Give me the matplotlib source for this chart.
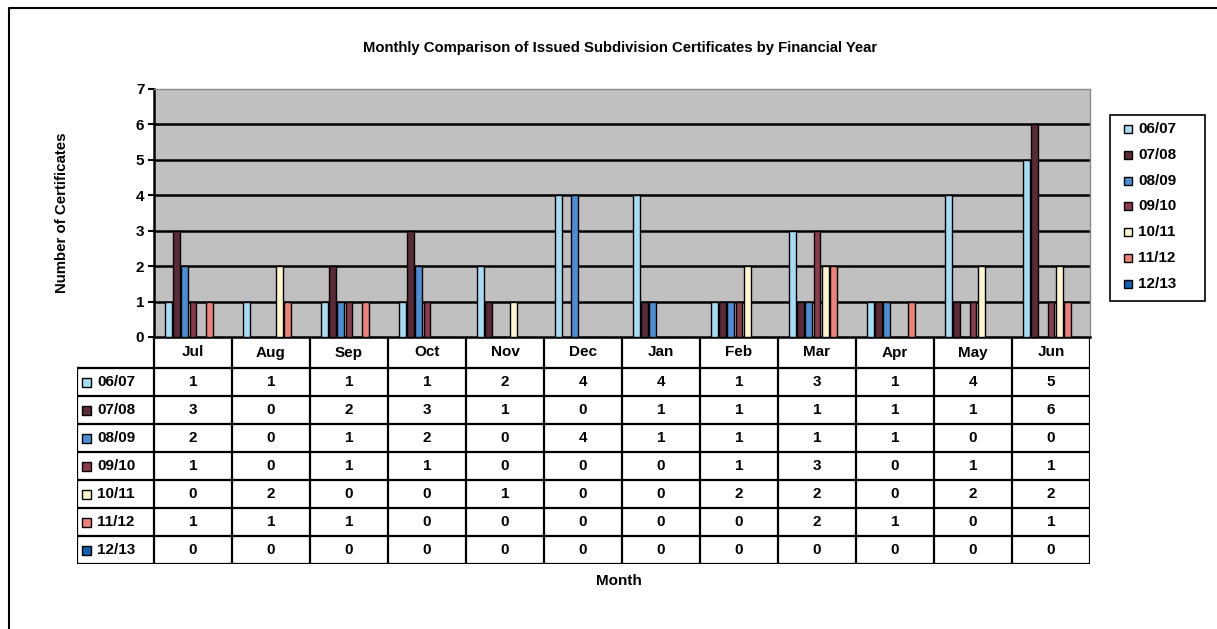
import matplotlib.pyplot as plt
from matplotlib.patches import Rectangle
from matplotlib.lines import Line2D
import numpy as np

plt.rcParams['font.family'] = ['Liberation Sans', 'DejaVu Sans']

months = ['Jul', 'Aug', 'Sep', 'Oct', 'Nov', 'Dec', 'Jan', 'Feb', 'Mar', 'Apr', 'May', 'Jun']
years = ['06/07', '07/08', '08/09', '09/10', '10/11', '11/12', '12/13']

fy0607 = [1, 1, 1, 1, 2, 4, 4, 1, 3, 1, 4, 5]
fy0708 = [3, 0, 2, 3, 1, 0, 1, 1, 1, 1, 1, 6]
fy0809 = [2, 0, 1, 2, 0, 4, 1, 1, 1, 1, 0, 0]
fy0910 = [1, 0, 1, 1, 0, 0, 0, 1, 3, 0, 1, 1]
fy1011 = [0, 2, 0, 0, 1, 0, 0, 2, 2, 0, 2, 2]
fy1112 = [1, 1, 1, 0, 0, 0, 0, 0, 2, 1, 0, 1]
fy1213 = [0, 0, 0, 0, 0, 0, 0, 0, 0, 0, 0, 0]
series = [fy0607, fy0708, fy0809, fy0910, fy1011, fy1112, fy1213]

colours = ['#a6dcf5', '#5c2a36', '#4a8fd6', '#8c3a4c', '#fff6cc', '#f08078', '#1060b0']

W, H = 1217, 629


def fx(px):
    return px / W


def fy(py):
    return 1 - py / H


fig = plt.figure(figsize=(W / 100, H / 100), dpi=100)

# outer frame (only top and left edges show in the picture)
fig.add_artist(Line2D([fx(9), fx(9), 1.0], [0.0, fy(8), fy(8)], color='black', lw=1.5))

# main plot area
ax = fig.add_axes([fx(154), fy(337), fx(1090) - fx(154), fy(89) - fy(337)])
ax.set_facecolor('#c0c0c0')
ax.set_xlim(-0.5, 11.5)
ax.set_ylim(0, 7)
x = np.arange(len(months))
pitch = 0.105
width = 0.088
for i, vals in enumerate(series):
    ax.bar(x + (i - 3) * pitch, vals, width, color=colours[i], edgecolor='black', lw=1.0, zorder=3)
for yv in range(1, 7):
    ax.axhline(yv, color='black', lw=1.8, zorder=2)
ax.set_yticks(range(0, 8))
ax.tick_params(axis='y', direction='out', length=4, width=1.5, labelsize=11, pad=3)
ax.set_xticks([])
for s in ['top', 'right']:
    ax.spines[s].set_color('#8a8a8a')
    ax.spines[s].set_linewidth(1.0)
ax.spines['left'].set_linewidth(1.8)
ax.spines['bottom'].set_linewidth(1.8)
for lab in ax.get_yticklabels():
    lab.set_fontweight('bold')

# data table under the plot
slot_px = (1090 - 154) / 12
lab_w = (154 - 77) / slot_px
tab = fig.add_axes([fx(77), fy(564), fx(1090) - fx(77), fy(337) - fy(564)])
tab.set_xlim(-0.5 - lab_w, 11.5)
tab.set_ylim(227, 0)
tab.axis('off')
head_h = 31
row_h = 28
lw_t = 1.6
fs_t = 11
for j in range(13):
    tab.plot([j - 0.5, j - 0.5], [0, 227], color='black', lw=lw_t)
tab.plot([-0.5 - lab_w, -0.5 - lab_w], [head_h, 227], color='black', lw=lw_t)
tab.plot([-0.5, 11.5], [0, 0], color='black', lw=lw_t)
for k in range(8):
    yy = head_h + k * row_h
    tab.plot([-0.5 - lab_w, 11.5], [yy, yy], color='black', lw=lw_t)
for j, m in enumerate(months):
    tab.text(j, head_h / 2, m, ha='center', va='center', fontsize=fs_t, fontweight='bold')
for k, vals in enumerate(series):
    yc = head_h + k * row_h + row_h / 2
    for j, v in enumerate(vals):
        tab.text(j, yc, str(v), ha='center', va='center', fontsize=fs_t, fontweight='bold')
    sw = 9 / slot_px
    tab.add_patch(Rectangle((-0.5 - lab_w + 5 / slot_px, yc - 4.5), sw, 9,
                            facecolor=colours[k], edgecolor='black', lw=1.0))
    tab.text(-0.5 - lab_w + 20 / slot_px, yc, years[k], ha='left', va='center',
             fontsize=fs_t, fontweight='bold')

# legend box
fig.add_artist(Rectangle((fx(1110), fy(301)), fx(1205) - fx(1110), fy(115) - fy(301),
                         facecolor='white', edgecolor='black', lw=1.2))
for i, yr in enumerate(years):
    yc = 129 + 25.8 * i
    fig.add_artist(Rectangle((fx(1124), fy(yc + 4)), fx(8), 8 / H,
                             facecolor=colours[i], edgecolor='black', lw=1.0))
    fig.text(fx(1138), fy(yc), yr, ha='left', va='center', fontsize=fs_t, fontweight='bold')

fig.text(fx(620), fy(48), 'Monthly Comparison of Issued Subdivision Certificates by Financial Year',
         ha='center', va='center', fontsize=10.7, fontweight='bold')
fig.text(fx(62), fy(213), 'Number of Certificates', ha='center', va='center',
         rotation=90, fontsize=10.8, fontweight='bold')
fig.text(fx(619), fy(581), 'Month', ha='center', va='center', fontsize=11, fontweight='bold')

fig.savefig('out.png', dpi=100)
